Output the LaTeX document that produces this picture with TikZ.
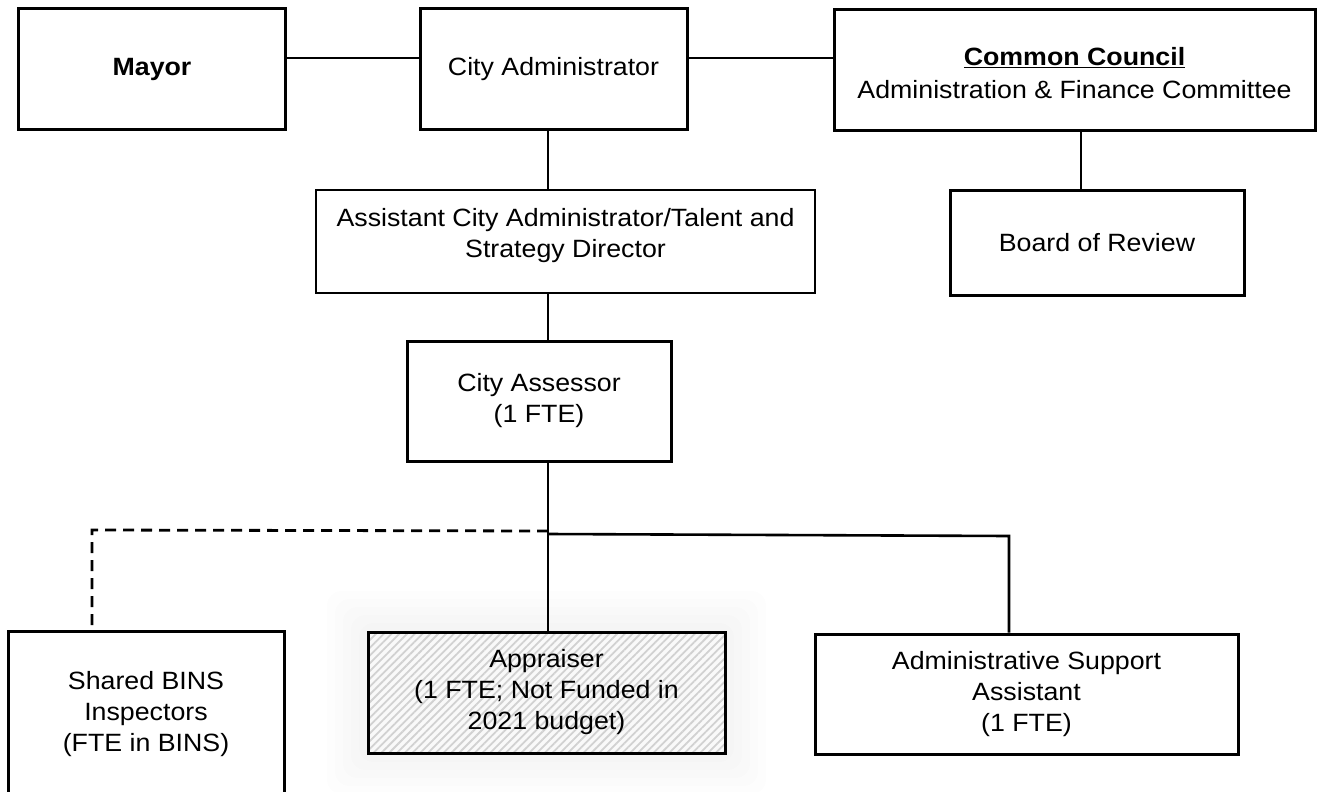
\documentclass[tikz,border=0pt]{standalone}
\usepackage{fontspec}
\setmainfont[FakeStretch=1.07]{Liberation Sans}
\usetikzlibrary{patterns.meta,backgrounds}
\begin{document}
\begin{tikzpicture}[x=1pt,y=-1pt,
  box/.style={draw, line width=3pt, rectangle, inner sep=0pt, align=center,
    font=\fontsize{25}{31}\selectfont},
  thinbox/.style={box, line width=1.5pt},
  conn/.style={line width=2.6pt},
  dconn/.style={line width=2.8pt, dash pattern=on 11pt off 7pt},
  glow/.style={fill=black, fill opacity=0.009, rounded corners=14pt},
  hatch/.style={preaction={fill=gray!5},
    pattern={Lines[angle=45,distance=5.5pt,line width=1.8pt]}, pattern color=gray!36}]
\useasboundingbox (0,0) rectangle (1317,792);

% top row
\node[box, minimum width=267pt, minimum height=120pt] (mayor) at (152,69) {\textbf{Mayor}};
\node[box, minimum width=267pt, minimum height=120pt] (ca) at (553.5,69) {City Administrator};
\node[box, minimum width=481pt, minimum height=120pt] (cc) at (1074.5,70)
  {\rule{0pt}{24pt}\textbf{\underline{Common Council}}\\[2pt]Administration \& Finance Committee};

% second row
\node[thinbox, minimum width=499pt, minimum height=103pt] (asst) at (565.5,241.5)
  {Assistant City Administrator/Talent and\\Strategy Director\\[-13pt]\mbox{}};
\node[box, minimum width=294pt, minimum height=105pt] (board) at (1097,242.5) {Board of Review};

% assessor
\node[box, minimum width=264pt, minimum height=120pt] (assessor) at (539,401) {City Assessor\\(1 FTE)};

% bottom row
\node[box, minimum width=276pt, minimum height=166pt] (bins) at (146,714)
  {Shared BINS\\Inspectors\\(FTE in BINS)};
\node[box, hatch, minimum width=357pt, minimum height=121pt] (appr) at (546.5,692.5)
  {Appraiser\\(1 FTE; Not Funded in\\2021 budget)};
\node[box, minimum width=423pt, minimum height=120pt] (admin) at (1026.5,694)
  {Administrative Support\\Assistant\\(1 FTE)};

% faint glow behind the appraiser box
\begin{scope}[on background layer]
  \foreach \d in {8,16,24,32,40}{
    \fill[glow] ([shift={(-\d pt,\d pt)}]appr.north west) rectangle ([shift={(\d pt,-\d pt)}]appr.south east);
  }
\end{scope}

% connector coordinates
\coordinate (trunk) at (548,0);
\coordinate (j) at (548,534);
\coordinate (jd) at (548,531);
\coordinate (rj) at (1009,536);
\coordinate (lj) at (92,530);
\coordinate (ccx) at (1081,0);

% connectors
\draw[conn] ([yshift=11pt]mayor.east) -- ([yshift=11pt]mayor.east -| ca.west);
\draw[conn] ([yshift=11pt]ca.east) -- ([yshift=11pt]ca.east -| cc.west);
\draw[conn] (ca.south -| trunk) -- (asst.north -| trunk);
\draw[conn] (cc.south -| ccx) -- (board.north -| ccx);
\draw[conn] (asst.south -| trunk) -- (assessor.north -| trunk);
\draw[conn] (assessor.south -| trunk) -- (appr.north -| trunk);
\draw[conn] (j) -- (rj) -- (rj |- admin.north);
\draw[dconn] (jd) -- (lj) -- (lj |- bins.north);
\end{tikzpicture}
\end{document}
